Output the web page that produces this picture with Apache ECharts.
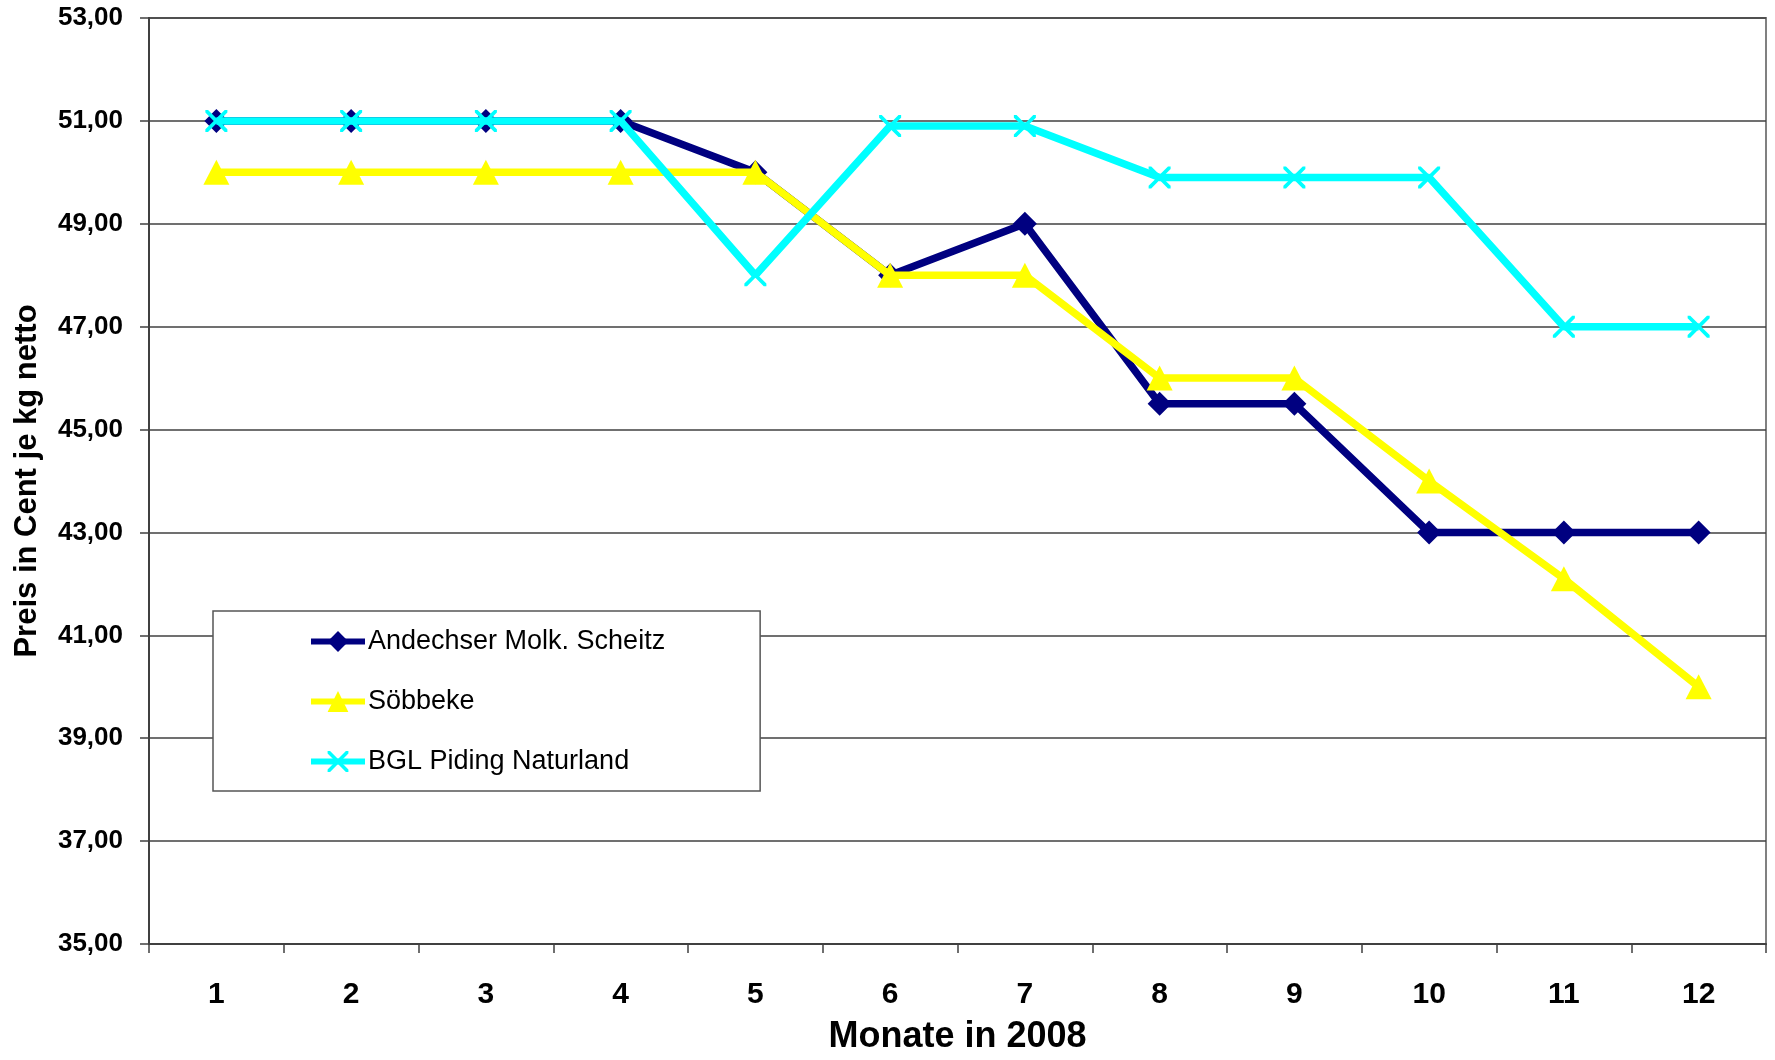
<!DOCTYPE html>
<html>
<head>
<meta charset="utf-8">
<script src="https://cdn.jsdelivr.net/npm/echarts@6/dist/echarts.min.js"></script>
<style>html,body{margin:0;padding:0;background:#fff}#c{width:1775px;height:1060px}</style>
</head>
<body>
<div id="c"></div>
<script>
const categories = ['1','2','3','4','5','6','7','8','9','10','11','12'];
const andechser = [51, 51, 51, 51, 50, 48, 49, 45.5, 45.5, 43, 43, 43];
const soebbeke = [50, 50, 50, 50, 50, 48, 48, 46, 46, 44, 42.1, 40];
const bgl = [51, 51, 51, 51, 48, 50.9, 50.9, 49.9, 49.9, 49.9, 47, 47];
const seriesNames = ['Andechser Molk. Scheitz', 'Söbbeke', 'BGL Piding Naturland'];

const FONT = 'Arial, "Liberation Sans", sans-serif';
const crossPath = 'path://M0,0 L1.2,0 L5,3.8 L8.8,0 L10,0 L10,1.2 L6.2,5 L10,8.8 L10,10 L8.8,10 L5,6.2 L1.2,10 L0,10 L0,8.8 L3.8,5 L0,1.2 Z';
const colors = ['#000080', '#FFFF00', '#00FFFF'];

const chart = echarts.init(document.getElementById('c'));
chart.setOption({
  animation: false,
  backgroundColor: '#fff',
  grid: {left: 149, right: 9, top: 18, bottom: 109, show: true, borderColor: '#808080', borderWidth: 2, backgroundColor: 'transparent'},
  legend: {
    orient: 'vertical', left: 213, top: 611,
    padding: [17, 95, 16, 95],
    itemWidth: 54, itemHeight: 26, itemGap: 33,
    backgroundColor: '#fff', borderColor: '#555', borderWidth: 1.5,
    textStyle: {fontFamily: FONT, fontSize: 27, color: '#000', padding: [0,0,0,-2]},
    data: seriesNames.map((n, i) => ({name: n, lineStyle: {width: 6, color: colors[i]}}))
  },
  xAxis: {
    type: 'category', data: categories, boundaryGap: true,
    name: 'Monate in 2008', nameLocation: 'middle', nameGap: 75,
    nameTextStyle: {fontFamily: FONT, fontSize: 36, fontWeight: 'bold', color: '#000'},
    axisLine: {lineStyle: {color: '#404040', width: 2}},
    axisTick: {show: true, length: 9, lineStyle: {color: '#404040', width: 1.5}},
    axisLabel: {fontFamily: FONT, fontSize: 30, fontWeight: 'bold', color: '#000', margin: 36},
    splitLine: {show: false}
  },
  yAxis: {
    type: 'value', min: 35, max: 53, interval: 2,
    name: 'Preis in Cent je kg netto', nameLocation: 'middle', nameGap: 106, nameRotate: 90,
    nameTextStyle: {fontFamily: FONT, fontSize: 31, fontWeight: 'bold', color: '#000'},
    axisLine: {show: true, lineStyle: {color: '#404040', width: 2}},
    axisTick: {show: true, length: 9, lineStyle: {color: '#404040', width: 1.5}},
    axisLabel: {fontFamily: FONT, fontSize: 26, fontWeight: 'bold', color: '#000', margin: 26,
      formatter: v => v.toFixed(2).replace('.', ',')},
    splitLine: {show: true, lineStyle: {color: '#404040', width: 1.5}}
  },
  series: [
    {name: seriesNames[0], type: 'line', data: andechser, symbol: 'diamond', symbolSize: 24,
      lineStyle: {color: colors[0], width: 7.5}, itemStyle: {color: colors[0]}, z: 3},
    {name: seriesNames[1], type: 'line', data: soebbeke, symbol: 'triangle', symbolSize: [26, 25],
      lineStyle: {color: colors[1], width: 7.5}, itemStyle: {color: colors[1]}, z: 4},
    {name: seriesNames[2], type: 'line', data: bgl, symbol: crossPath, symbolSize: 22,
      lineStyle: {color: colors[2], width: 7.5}, itemStyle: {color: colors[2]}, z: 5}
  ]
});
</script>
</body>
</html>
